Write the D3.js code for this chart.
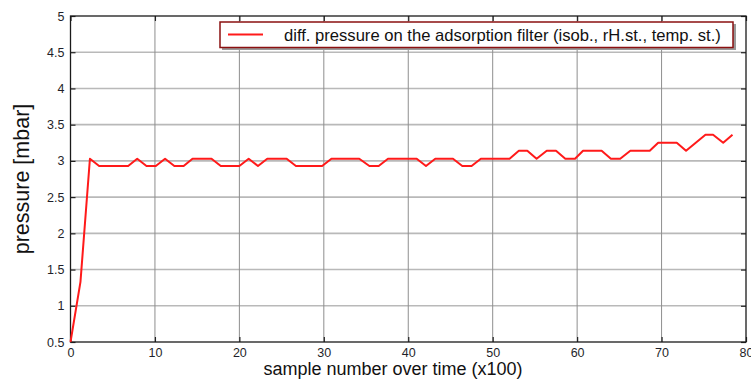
<!DOCTYPE html>
<html>
<head>
<meta charset="utf-8">
<script src="https://cdn.jsdelivr.net/npm/d3@7"></script>
<style>
  body { margin: 0; background: #fff; }
  svg { display: block; font-family: "Liberation Sans", Arial, sans-serif; }
</style>
</head>
<body>
<div class="chart"></div>
<script>
// vertices of the pressure trace
const sampleX = [0, 1.18, 2.3, 3.39, 6.83, 7.9, 9.0, 10.1, 11.2, 12.3, 13.4, 14.45, 16.7, 17.8, 20.0, 21.1, 22.2, 23.3, 25.6, 26.7,
  29.8, 30.9, 34.2, 35.4, 36.5, 37.6, 41.0, 42.1, 43.2, 45.3, 46.4, 47.5, 48.6, 52.0, 53.1, 54.1, 55.2, 56.4, 57.5, 58.6,
  59.75, 60.7, 62.9, 64.0, 65.1, 66.3, 68.6, 69.6, 71.8, 72.9, 75.2, 76.1, 77.3, 78.4];
const pressure = [0.5, 1.33, 3.03, 2.93, 2.93, 3.03, 2.93, 2.93, 3.03, 2.93, 2.93, 3.03, 3.03, 2.93, 2.93, 3.03, 2.93, 3.03, 3.03, 2.93,
  2.93, 3.03, 3.03, 2.93, 2.93, 3.03, 3.03, 2.93, 3.03, 3.03, 2.93, 2.93, 3.03, 3.03, 3.14, 3.14, 3.03, 3.14, 3.14, 3.03,
  3.03, 3.14, 3.14, 3.03, 3.03, 3.14, 3.14, 3.25, 3.25, 3.14, 3.36, 3.36, 3.25, 3.36];
const xTicks = [0, 10, 20, 30, 40, 50, 60, 70, 80];
const yTicks = [0.5, 1, 1.5, 2, 2.5, 3, 3.5, 4, 4.5, 5];
const seriesName = "diff. pressure on the adsorption filter (isob., rH.st., temp. st.)";

const w = 751;
const h = 379;
const plotL = 70.5, plotR = 746, plotT = 16, plotB = 342;

const svg = d3.select('.chart')
              .append('svg')
              .attr("width", w)
              .attr("height", h);

const xScale = d3.scaleLinear().domain([0, 80]).range([plotL, plotR]);
const yScale = d3.scaleLinear().domain([0.5, 5]).range([plotB, plotT]);

// grid
svg.append("g")
   .selectAll("line")
   .data(yTicks.slice(1, -1))
   .enter()
   .append("line")
   .attr("x1", plotL).attr("x2", plotR)
   .attr("y1", d => yScale(d)).attr("y2", d => yScale(d))
   .attr("stroke", "#b9b9b9")
   .attr("stroke-width", 1.6);

svg.append("g")
   .selectAll("line")
   .data(xTicks.slice(1, -1))
   .enter()
   .append("line")
   .attr("x1", d => xScale(d)).attr("x2", d => xScale(d))
   .attr("y1", plotT).attr("y2", plotB)
   .attr("stroke", "#8e8e8e")
   .attr("stroke-width", 1);

// axes with inward ticks
const styleAxis = (g) => {
    g.select(".domain").remove();
    g.selectAll(".tick line").attr("stroke", "#222").attr("stroke-width", 1.2);
    g.selectAll("text").attr("fill", "#1f1f2a").style("font-size", "12.5px");
}

svg.append("g")
   .attr("transform", "translate(0," + plotB + ")")
   .call(d3.axisBottom(xScale).tickValues(xTicks).tickSizeInner(-5).tickSizeOuter(0).tickPadding(6).tickFormat(d3.format("d")))
   .call(styleAxis);

svg.append("g")
   .attr("transform", "translate(0," + plotT + ")")
   .call(d3.axisTop(xScale).tickValues(xTicks).tickSizeInner(-5).tickSizeOuter(0).tickFormat(""))
   .call(styleAxis);

svg.append("g")
   .attr("transform", "translate(" + plotL + ",0)")
   .call(d3.axisLeft(yScale).tickValues(yTicks).tickSizeInner(-5).tickSizeOuter(0).tickPadding(6).tickFormat(d => d))
   .call(styleAxis);

svg.append("g")
   .attr("transform", "translate(" + plotR + ",0)")
   .call(d3.axisRight(yScale).tickValues(yTicks).tickSizeInner(-5).tickSizeOuter(0).tickFormat(""))
   .call(styleAxis);

// frame
svg.append("rect")
   .attr("x", plotL).attr("y", plotT)
   .attr("width", plotR - plotL).attr("height", plotB - plotT)
   .attr("fill", "none")
   .attr("stroke", "#1a1a1a")
   .attr("stroke-width", 1.3);

// data line
const points = sampleX.map((x, i) => [x, pressure[i]]);
svg.append("path")
   .datum(points)
   .attr("d", d3.line().x(d => xScale(d[0])).y(d => yScale(d[1])))
   .attr("fill", "none")
   .attr("stroke", "#ff1a1a")
   .attr("stroke-width", 2)
   .attr("stroke-linejoin", "round");

// legend
const lg = svg.append("g");
lg.append("rect")
  .attr("x", 222).attr("y", 24).attr("width", 514).attr("height", 26)
  .attr("fill", "#9a9a9a");
lg.append("rect")
  .attr("x", 220).attr("y", 22).attr("width", 513).attr("height", 25.5)
  .attr("fill", "#fff")
  .attr("stroke", "#8b1010")
  .attr("stroke-width", 1.5);
lg.append("line")
  .attr("x1", 228).attr("x2", 263).attr("y1", 34.5).attr("y2", 34.5)
  .attr("stroke", "#ff1a1a").attr("stroke-width", 2);
lg.append("text")
  .attr("x", 284).attr("y", 40.5)
  .style("font-size", "16.6px")
  .attr("fill", "#111")
  .text(seriesName);

// axis titles
svg.append("text")
   .attr("x", 393).attr("y", 375)
   .attr("text-anchor", "middle")
   .style("font-size", "18px")
   .attr("fill", "#111")
   .text("sample number over time (x100)");

svg.append("text")
   .attr("transform", "translate(29,179) rotate(-90)")
   .attr("text-anchor", "middle")
   .style("font-size", "21.5px")
   .attr("fill", "#111")
   .text("pressure [mbar]");
</script>
</body>
</html>
